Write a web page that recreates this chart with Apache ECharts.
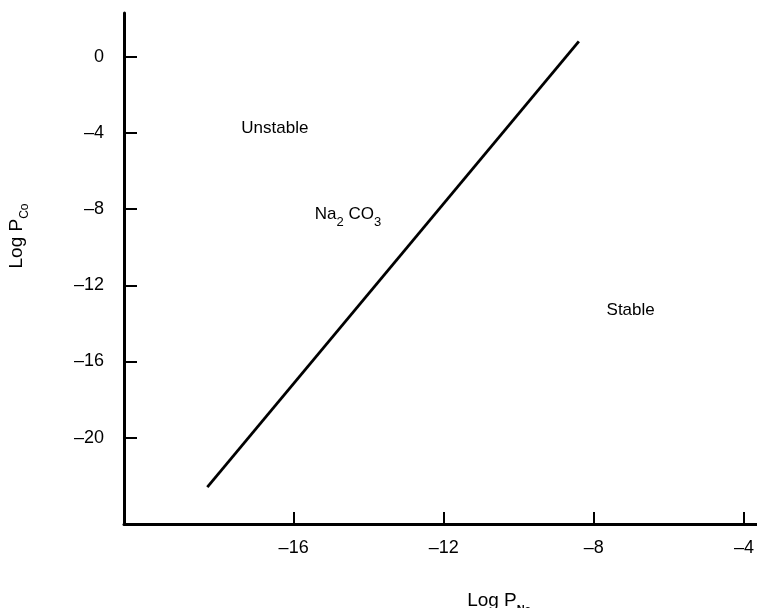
<!DOCTYPE html>
<html>
<head>
<meta charset="utf-8">
<script src="https://cdn.jsdelivr.net/npm/echarts@6/dist/echarts.min.js"></script>
<style>
html,body{margin:0;padding:0;background:#fff;}
#c{width:757px;height:608px;}
</style>
</head>
<body>
<div id="c"></div>
<script>
// ---- data ----
const xTicks = [-16, -12, -8, -4];
const yTicks = [0, -4, -8, -12, -16, -20];
const boundaryX = [-18.3, -8.4];
const boundaryY = [-22.6, 0.8];
const regionNames = ['Unstable', 'Na2CO3', 'Stable'];
const regionX = [-16.5, -14.55, -7.02];
const regionY = [-3.7, -8.2, -13.24];

const FONT = 'Liberation Sans, Arial, sans-serif';
const INK = '#000';
const dash = v => (v < 0 ? '\u2013' + Math.abs(v) : String(v));

const chart = echarts.init(document.getElementById('c'), null, {renderer: 'canvas'});
chart.setOption({
  backgroundColor: '#fff',
  animation: false,
  grid: {left: 124, right: 0, top: 13, bottom: 84, containLabel: false},
  xAxis: {
    type: 'value', min: -20.52, max: -3.66,
    axisLine: {onZero: false, lineStyle: {color: INK, width: 3}},
    axisTick: {show: true, inside: true, length: 12, customValues: xTicks, lineStyle: {color: INK, width: 2}},
    axisLabel: {customValues: xTicks, formatter: dash, margin: 15, color: INK, fontSize: 18, fontFamily: FONT},
    splitLine: {show: false}
  },
  yAxis: {
    type: 'value', min: -24.53, max: 2.29,
    axisLine: {onZero: false, lineStyle: {color: INK, width: 3}},
    axisTick: {show: true, inside: true, length: 13, customValues: yTicks, lineStyle: {color: INK, width: 2}},
    axisLabel: {customValues: yTicks, formatter: dash, margin: 20, color: INK, fontSize: 18, fontFamily: FONT},
    splitLine: {show: false}
  },
  series: [
    {
      type: 'line',
      data: boundaryX.map((x, i) => [x, boundaryY[i]]),
      symbol: 'none',
      lineStyle: {color: INK, width: 2.8},
      silent: true
    },
    {
      type: 'scatter',
      symbolSize: 0,
      itemStyle: {color: INK, opacity: 1},
      data: regionNames.map((n, i) => ({name: n, value: [regionX[i], regionY[i]]})),
      label: {
        show: true, position: 'inside', color: INK, opacity: 1,
        formatter: p => p.name === 'Na2CO3' ? '{a|Na}{s|2}{a| CO}{s|3}' : '{a|' + p.name + '}',
        rich: {
          a: {fontSize: 17, fontFamily: FONT, color: INK, verticalAlign: 'bottom', lineHeight: 20},
          s: {fontSize: 13, fontFamily: FONT, color: INK, verticalAlign: 'bottom', lineHeight: 14, padding: [0, 0, -6, 0]}
        }
      },
      silent: true
    }
  ],
  graphic: [
    {
      type: 'text', x: 499, y: 599,
      style: {
        text: '{a|Log P}{s|Na}', align: 'center', verticalAlign: 'middle',
        rich: {
          a: {fontSize: 19, fontFamily: FONT, fill: INK, verticalAlign: 'bottom', lineHeight: 22},
          s: {fontSize: 11, fontFamily: FONT, fill: INK, fontWeight: 'bold', verticalAlign: 'bottom', lineHeight: 14, padding: [0, 0, -5, 0]}
        }
      }
    },
    {
      type: 'text', x: 15, y: 236, rotation: Math.PI / 2,
      style: {
        text: '{a|Log P}{s|Co}', align: 'center', verticalAlign: 'middle',
        rich: {
          a: {fontSize: 19, fontFamily: FONT, fill: INK, verticalAlign: 'bottom', lineHeight: 22},
          s: {fontSize: 12, fontFamily: FONT, fill: INK, verticalAlign: 'bottom', lineHeight: 14, padding: [0, 0, -5, 0]}
        }
      }
    }
  ]
});
</script>
</body>
</html>
